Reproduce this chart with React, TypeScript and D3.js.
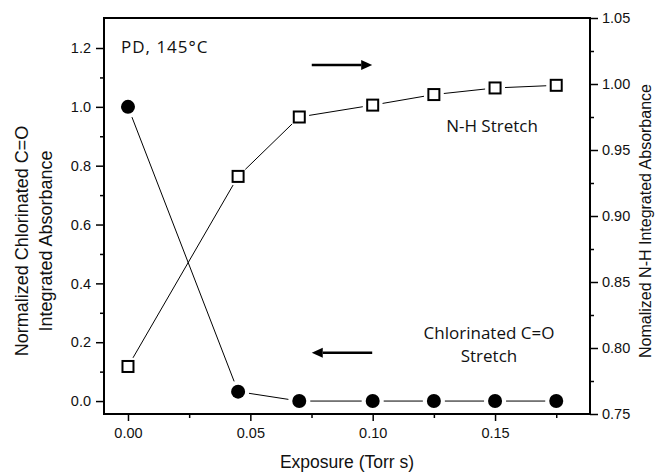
import React, { useEffect, useRef } from 'react'
import * as d3 from 'd3'

// exposure (Torr s)
const exposure = [0, 0.045, 0.07, 0.1, 0.125, 0.15, 0.175]
// left axis: normalized chlorinated C=O
const chlorinatedCO = [1.0, 0.032, 0.0, 0.0, 0.0, 0.0, 0.0]
// right axis: normalized N-H
const nhStretch = [0.786, 0.93, 0.975, 0.984, 0.992, 0.997, 0.999]

const xTicks = [0, 0.05, 0.1, 0.15]
const xMinorTicks = [0.025, 0.075, 0.125, 0.175]
const leftTicks = [0, 0.2, 0.4, 0.6, 0.8, 1.0, 1.2]
const leftMinorTicks = [0.1, 0.3, 0.5, 0.7, 0.9, 1.1]
const rightTicks = [0.75, 0.8, 0.85, 0.9, 0.95, 1.0, 1.05]
const rightMinorTicks = [0.775, 0.825, 0.875, 0.925, 0.975, 1.025]

const width = 655
const height = 474
const margin = { top: 18, right: 65, bottom: 60, left: 104 }

export default function App() {
  const chart = useRef<SVGSVGElement>(null)

  useEffect(() => {
    const svg = d3.select(chart.current)
    svg.selectAll('*').remove()

    const x = d3.scaleLinear().domain([-0.0098, 0.1888]).range([margin.left, width - margin.right])
    const yL = d3.scaleLinear().domain([-0.044, 1.302]).range([height - margin.bottom, margin.top])
    const yR = d3.scaleLinear().domain([0.75, 1.05]).range([height - margin.bottom, margin.top])

    const tickFont = 'Liberation Sans, Arial, sans-serif'
    const noteFont = 'Open Sans, sans-serif'

    const styleAxis = (g: any) => {
      g.select('.domain').remove()
      g.selectAll('line').attr('stroke', '#000').attr('stroke-width', 1.5)
      g.selectAll('text').attr('font-family', tickFont).attr('font-size', 14.5).attr('fill', '#111')
    }

    // bottom axis
    svg.append('g')
      .attr('transform', `translate(0,${height - margin.bottom})`)
      .call(d3.axisBottom(x).tickValues(xTicks).tickFormat(d3.format('.2f')).tickSize(7).tickPadding(7))
      .call(styleAxis)
    svg.append('g')
      .attr('transform', `translate(0,${height - margin.bottom})`)
      .call(d3.axisBottom(x).tickValues(xMinorTicks).tickFormat(() => '').tickSize(4))
      .call(styleAxis)

    // left axis
    svg.append('g')
      .attr('transform', `translate(${margin.left},0)`)
      .call(d3.axisLeft(yL).tickValues(leftTicks).tickFormat(d3.format('.1f')).tickSize(8).tickPadding(5))
      .call(styleAxis)
    svg.append('g')
      .attr('transform', `translate(${margin.left},0)`)
      .call(d3.axisLeft(yL).tickValues(leftMinorTicks).tickFormat(() => '').tickSize(4))
      .call(styleAxis)

    // right axis
    svg.append('g')
      .attr('transform', `translate(${width - margin.right},0)`)
      .call(d3.axisRight(yR).tickValues(rightTicks).tickFormat(d3.format('.2f')).tickSize(8).tickPadding(4))
      .call(styleAxis)
    svg.append('g')
      .attr('transform', `translate(${width - margin.right},0)`)
      .call(d3.axisRight(yR).tickValues(rightMinorTicks).tickFormat(() => '').tickSize(4))
      .call(styleAxis)

    // frame
    svg.append('rect')
      .attr('x', margin.left).attr('y', margin.top)
      .attr('width', width - margin.left - margin.right)
      .attr('height', height - margin.top - margin.bottom)
      .attr('fill', 'none').attr('stroke', '#000').attr('stroke-width', 2)

    // connecting segments with a small gap at each marker
    const drawSegments = (pts: [number, number][], gap: number) => {
      for (let i = 0; i < pts.length - 1; i++) {
        const [x1, y1] = pts[i]
        const [x2, y2] = pts[i + 1]
        const len = Math.hypot(x2 - x1, y2 - y1)
        if (len <= 2 * gap) continue
        const ux = (x2 - x1) / len
        const uy = (y2 - y1) / len
        svg.append('line')
          .attr('x1', x1 + ux * gap).attr('y1', y1 + uy * gap)
          .attr('x2', x2 - ux * gap).attr('y2', y2 - uy * gap)
          .attr('stroke', '#000').attr('stroke-width', 1)
      }
    }

    const circlePts = exposure.map((d, i) => [x(d), yL(chlorinatedCO[i])] as [number, number])
    const squarePts = exposure.map((d, i) => [x(d), yR(nhStretch[i])] as [number, number])

    drawSegments(squarePts, 10)
    drawSegments(circlePts, 11)

    svg.append('g').selectAll('circle')
      .data(circlePts)
      .join('circle')
      .attr('cx', d => d[0]).attr('cy', d => d[1]).attr('r', 7)
      .attr('fill', '#000')

    const s = 11
    svg.append('g').selectAll('rect')
      .data(squarePts)
      .join('rect')
      .attr('x', d => d[0] - s / 2).attr('y', d => d[1] - s / 2)
      .attr('width', s).attr('height', s)
      .attr('fill', '#fff').attr('stroke', '#000').attr('stroke-width', 2)

    // arrows
    const arrow = (fromX: number, toX: number, yv: number) => {
      const x1 = x(fromX)
      const x2 = x(toX)
      const yy = yL(yv)
      const dir = Math.sign(x2 - x1)
      const head = 11
      svg.append('line')
        .attr('x1', x1).attr('y1', yy).attr('x2', x2 - dir * head).attr('y2', yy)
        .attr('stroke', '#000').attr('stroke-width', 2.5)
      svg.append('path')
        .attr('d', `M${x2},${yy} L${x2 - dir * head},${yy - 5} L${x2 - dir * head},${yy + 5} Z`)
        .attr('fill', '#000')
    }
    arrow(0.0751, 0.0998, 1.142)
    arrow(0.0998, 0.0751, 0.164)

    // annotations
    const note = (tx: number, ty: number, label: string, anchor = 'middle') =>
      svg.append('text')
        .attr('x', tx).attr('y', ty).attr('text-anchor', anchor)
        .attr('font-family', noteFont).attr('font-size', 17).attr('fill', '#111')
        .text(label)
    note(121, 53, 'PD, 145°C', 'start').attr('letter-spacing', 1)
    note(492, 132, 'N-H Stretch')
    note(489, 339, 'Chlorinated C=O')
    note(489, 362, 'Stretch')

    // axis titles
    svg.append('text')
      .attr('x', 347).attr('y', 468)
      .attr('text-anchor', 'middle')
      .attr('font-family', tickFont).attr('font-size', 17.5).attr('fill', '#111')
      .text('Exposure (Torr s)')

    const leftTitle = svg.append('text')
      .attr('transform', `translate(0,241) rotate(-90)`)
      .attr('text-anchor', 'middle')
      .attr('font-family', tickFont).attr('font-size', 18).attr('fill', '#111')
    leftTitle.append('tspan').attr('x', 0).attr('y', 28).text('Normalized Chlorinated C=O')
    leftTitle.append('tspan').attr('x', 0).attr('y', 52).text('Integrated Absorbance')

    svg.append('text')
      .attr('transform', `translate(651,221) rotate(-90)`)
      .attr('text-anchor', 'middle')
      .attr('font-family', tickFont).attr('font-size', 16).attr('fill', '#111')
      .text('Nomalized N-H Integrated Absorbance')
  }, [])

  return (
    <svg
      ref={chart}
      width={width}
      height={height}
      viewBox={`0 0 ${width} ${height}`}
      style={{ position: 'absolute', left: 0, top: 0, background: '#fff' }}
    />
  )
}
